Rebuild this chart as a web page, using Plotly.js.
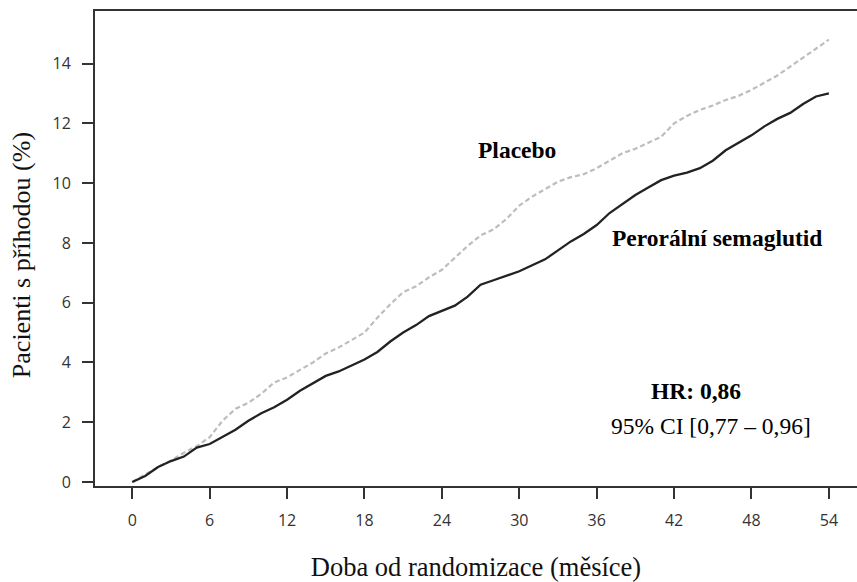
<!DOCTYPE html>
<html>
<head>
<meta charset="utf-8">
<script src="https://cdn.plot.ly/plotly-3.0.1.min.js"></script>
<style>html,body{margin:0;padding:0;background:#fff;overflow:hidden}#chart{width:857px;height:582px}</style>
</head>
<body>
<div id="chart"></div>
<script>
const months = [0,1,2,3,4,5,6,7,8,9,10,11,12,13,14,15,16,17,18,19,20,21,22,23,24,25,26,27,28,29,30,31,32,33,34,35,36,37,38,39,40,41,42,43,44,45,46,47,48,49,50,51,52,53,54];
const placebo = [0,0.25,0.5,0.72,0.98,1.2,1.5,2.05,2.45,2.65,2.95,3.33,3.5,3.75,4.0,4.3,4.5,4.75,5.0,5.5,5.95,6.35,6.55,6.85,7.1,7.5,7.9,8.25,8.45,8.8,9.25,9.55,9.8,10.05,10.2,10.3,10.5,10.75,11.0,11.15,11.35,11.55,12.0,12.25,12.45,12.6,12.78,12.92,13.12,13.35,13.6,13.9,14.2,14.5,14.8];
const semaglutide = [0,0.2,0.5,0.7,0.85,1.15,1.27,1.5,1.75,2.05,2.3,2.5,2.75,3.05,3.3,3.55,3.7,3.9,4.1,4.35,4.7,5.0,5.25,5.55,5.72,5.9,6.2,6.6,6.75,6.9,7.05,7.25,7.45,7.75,8.05,8.3,8.6,9.0,9.3,9.6,9.85,10.1,10.25,10.35,10.5,10.75,11.1,11.35,11.6,11.9,12.15,12.35,12.65,12.9,13.0];
const xTicks = [0,6,12,18,24,30,36,42,48,54];
const yTicks = [0,2,4,6,8,10,12,14];
const seriesNames = ['Placebo','Perorální semaglutid'];

const traces = [
  {x: months, y: placebo, type:'scatter', mode:'lines', name: seriesNames[0],
   line:{color:'#bdbdbd', width:2.2, dash:'5px,3px'}},
  {x: months, y: semaglutide, type:'scatter', mode:'lines', name: seriesNames[1],
   line:{color:'#222222', width:2.3}}
];

const serif = 'Liberation Serif, Times New Roman, serif';
const tickFont = {family:'Open Sans, sans-serif', size:16, color:'#333'};
const layout = {
  width: 857, height: 582,
  margin: {l:95, r:0, t:11, b:96},
  paper_bgcolor:'#fff', plot_bgcolor:'#fff',
  showlegend:false,
  xaxis: {
    range:[-2.89, 56.18], tickvals:xTicks, ticktext:xTicks.map(String),
    showgrid:false, zeroline:false,
    showline:true, linecolor:'#333', linewidth:2, mirror:true,
    ticks:'outside', ticklen:11, tickwidth:2, tickcolor:'#333',
    ticklabelstandoff:8,
    tickfont:tickFont,
    title:{text:'Doba od randomizace (měsíce)', font:{family:serif, size:26.5, color:'#111'}, standoff:28}
  },
  yaxis: {
    range:[-0.134, 15.76], tickvals:yTicks, ticktext:yTicks.map(String),
    showgrid:false, zeroline:false,
    showline:true, linecolor:'#333', linewidth:2,
    ticks:'outside', ticklen:11, tickwidth:2, tickcolor:'#333',
    ticklabelstandoff:8,
    tickfont:tickFont
  },
  annotations: [
    {x:-0.0971, y:0.486, xref:'paper', yref:'paper', xanchor:'center', yanchor:'middle',
     text:'Pacienti s příhodou (%)', textangle:-90, showarrow:false,
     font:{family:serif, size:26, color:'#111'}},
    {x:29.8, y:11.1, xref:'x', yref:'y', text:'<b>Placebo</b>', showarrow:false,
     font:{family:serif, size:23.5, color:'#000'}},
    {x:45.3, y:8.15, xref:'x', yref:'y', text:'<b>Perorální semaglutid</b>', showarrow:false,
     font:{family:serif, size:23.5, color:'#000'}},
    {x:43.7, y:3.05, xref:'x', yref:'y', text:'<b>HR: 0,86</b>', showarrow:false,
     font:{family:serif, size:23.5, color:'#000'}},
    {x:44.9, y:1.86, xref:'x', yref:'y', text:'95% CI [0,77 – 0,96]', showarrow:false,
     font:{family:serif, size:23.5, color:'#000'}}
  ]
};

Plotly.newPlot('chart', traces, layout, {displayModeBar:false, staticPlot:true});
</script>
</body>
</html>
